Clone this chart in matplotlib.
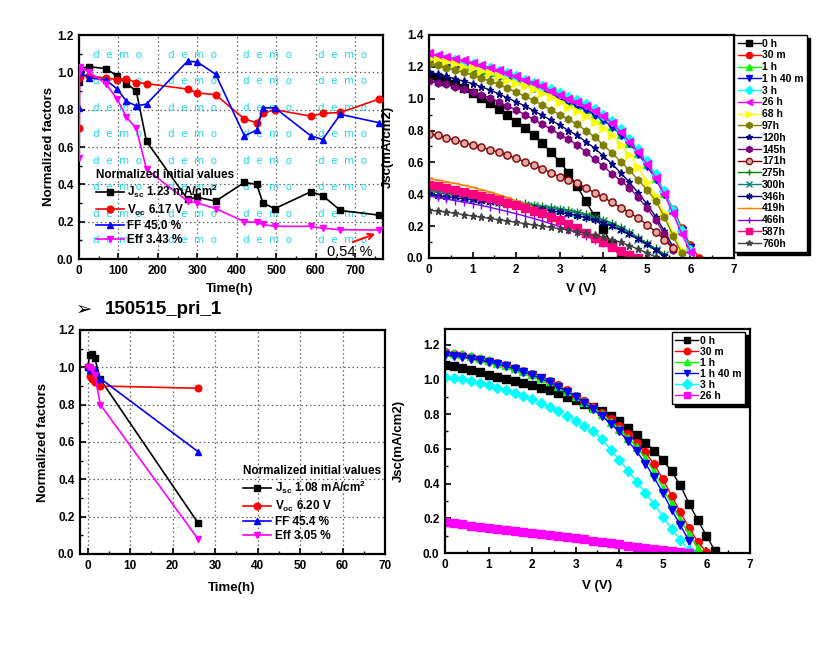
#!/usr/bin/env python3
"""Degradation summary: normalized factors vs time and J-V sweeps for two cells."""

from __future__ import annotations

import matplotlib

matplotlib.use("Agg")
import matplotlib.pyplot as plt
from matplotlib.ticker import MultipleLocator

W_PX, H_PX = 829, 652

# ---------------- long run, normalized factors (top left) ----------------
TIME_LONG = [0, 0.5, 1, 1.67, 3, 26, 68, 97, 120, 145, 171, 275, 300, 346,
             419, 450, 466, 496, 587, 617, 662, 760]
JSC_LONG = [1.0, 0.95, 1.0, 1.01, 1.02, 1.03, 1.02, 0.98, 0.94, 0.90, 0.63,
            0.32, 0.33, 0.31, 0.41, 0.40, 0.30, 0.27, 0.36, 0.34, 0.26, 0.235]
VOC_LONG = [1.0, 0.70, 0.97, 0.98, 0.985, 0.98, 0.97, 0.96, 0.965, 0.945, 0.94,
            0.91, 0.89, 0.88, 0.75, 0.73, 0.78, 0.80, 0.765, 0.78, 0.785, 0.857]
FF_LONG = [1.0, 0.81, 1.02, 1.03, 1.0, 0.97, 0.96, 0.91, 0.845, 0.82, 0.83,
           1.06, 1.055, 0.99, 0.66, 0.69, 0.81, 0.81, 0.66, 0.64, 0.775, 0.73]
EFF_LONG = [1.0, 0.54, 1.0, 1.02, 1.03, 1.0, 0.94, 0.855, 0.76, 0.70, 0.48,
            0.31, 0.30, 0.27, 0.20, 0.196, 0.185, 0.175, 0.175, 0.165, 0.157, 0.155]
LABELS_LONG = ["J$_{sc}$ 1.23 mA/cm$^{2}$", "V$_{oc}$ 6.17 V", "FF 45.0 %", "Eff 3.43 %"]
FINAL_EFF_TEXT = "0.54 %"

# ---------------- short run, normalized factors (bottom left) ----------------
TIME_SHORT = [0, 0.5, 1, 1.67, 3, 26]
JSC_SHORT = [1.0, 1.065, 1.07, 1.05, 0.935, 0.166]
VOC_SHORT = [1.0, 0.955, 0.935, 0.92, 0.90, 0.888]
FF_SHORT = [1.0, 0.985, 0.995, 0.99, 0.94, 0.548]
EFF_SHORT = [1.0, 1.0, 0.985, 0.96, 0.80, 0.08]
LABELS_SHORT = ["J$_{sc}$ 1.08 mA/cm$^{2}$", "V$_{oc}$ 6.20 V", "FF 45.4 %", "Eff 3.05 %"]

# ---------------- J-V sweeps (voltage grid shared by all curves) ----------------
V_GRID = [0.0, 0.2, 0.4, 0.6, 0.8, 1.0, 1.2, 1.4, 1.6, 1.8, 2.0, 2.2, 2.4, 2.6,
          2.8, 3.0, 3.2, 3.4, 3.6, 3.8, 4.0, 4.2, 4.4, 4.6, 4.8, 5.0, 5.2, 5.4,
          5.6, 5.8, 6.0, 6.2, 6.4]

IV_LABELS_LONG = ["0 h", "30 m", "1 h", "1 h 40 m", "3 h", "26 h", "68 h", "97h", "120h",
                  "145h", "171h", "275h", "300h", "346h", "419h", "466h", "587h", "760h"]
J_0H = [1.15, 1.13, 1.11, 1.09, 1.065, 1.035, 1.005, 0.97, 0.935, 0.895, 0.855, 0.815,
        0.77, 0.72, 0.665, 0.605, 0.535, 0.45, 0.355, 0.265, 0.18, 0.085, 0.0]
J_30M = [1.27, 1.26, 1.25, 1.24, 1.23, 1.215, 1.20, 1.185, 1.17, 1.15, 1.13, 1.11, 1.09,
         1.07, 1.045, 1.02, 0.995, 0.97, 0.945, 0.915, 0.88, 0.84, 0.79, 0.735, 0.67,
         0.60, 0.52, 0.42, 0.31, 0.19, 0.08, 0.0]
J_1H = [1.24, 1.235, 1.225, 1.215, 1.205, 1.19, 1.18, 1.165, 1.15, 1.135, 1.115, 1.10,
        1.08, 1.06, 1.035, 1.01, 0.985, 0.96, 0.935, 0.905, 0.87, 0.83, 0.78, 0.725,
        0.66, 0.59, 0.505, 0.41, 0.30, 0.18, 0.07]
J_1H40 = [1.23, 1.225, 1.215, 1.205, 1.195, 1.185, 1.17, 1.16, 1.145, 1.13, 1.11, 1.09,
          1.07, 1.05, 1.03, 1.005, 0.98, 0.955, 0.93, 0.90, 0.865, 0.825, 0.775, 0.72,
          0.655, 0.58, 0.495, 0.40, 0.29, 0.17, 0.06]
J_3H = [1.27, 1.26, 1.25, 1.24, 1.23, 1.215, 1.20, 1.19, 1.175, 1.16, 1.14, 1.12, 1.10,
        1.08, 1.06, 1.035, 1.01, 0.99, 0.965, 0.935, 0.90, 0.86, 0.81, 0.75, 0.685,
        0.61, 0.525, 0.42, 0.30, 0.17, 0.05]
J_26H = [1.285, 1.275, 1.265, 1.25, 1.24, 1.225, 1.21, 1.195, 1.18, 1.16, 1.14, 1.12,
         1.10, 1.08, 1.05, 1.025, 1.0, 0.98, 0.955, 0.925, 0.89, 0.85, 0.79, 0.73,
         0.665, 0.59, 0.505, 0.40, 0.28, 0.15, 0.04]
J_68H = [1.25, 1.24, 1.23, 1.215, 1.20, 1.19, 1.175, 1.16, 1.14, 1.12, 1.10, 1.08, 1.06,
         1.035, 1.01, 0.98, 0.95, 0.92, 0.89, 0.855, 0.815, 0.77, 0.71, 0.645, 0.57,
         0.48, 0.39, 0.28, 0.16, 0.05]
J_97H = [1.22, 1.21, 1.195, 1.18, 1.165, 1.15, 1.13, 1.11, 1.09, 1.065, 1.04, 1.015,
         0.99, 0.96, 0.93, 0.90, 0.87, 0.84, 0.80, 0.76, 0.71, 0.66, 0.605, 0.55, 0.49,
         0.43, 0.36, 0.26, 0.14, 0.03]
J_120H = [1.165, 1.155, 1.14, 1.125, 1.11, 1.095, 1.075, 1.055, 1.03, 1.005, 0.98, 0.955,
          0.925, 0.895, 0.865, 0.835, 0.80, 0.77, 0.73, 0.69, 0.64, 0.59, 0.535, 0.475,
          0.41, 0.34, 0.26, 0.17, 0.07]
J_145H = [1.11, 1.10, 1.09, 1.075, 1.06, 1.045, 1.025, 1.005, 0.98, 0.955, 0.93, 0.90,
          0.87, 0.84, 0.81, 0.775, 0.745, 0.71, 0.665, 0.62, 0.575, 0.53, 0.485, 0.44,
          0.38, 0.315, 0.24, 0.15, 0.05]
J_171H = [0.78, 0.77, 0.755, 0.74, 0.725, 0.71, 0.695, 0.68, 0.665, 0.645, 0.625, 0.605,
          0.585, 0.56, 0.535, 0.51, 0.49, 0.47, 0.44, 0.41, 0.38, 0.35, 0.315, 0.285,
          0.25, 0.21, 0.165, 0.115, 0.06]
J_275H = [0.43, 0.42, 0.41, 0.40, 0.39, 0.385, 0.378, 0.37, 0.363, 0.356, 0.35, 0.343,
          0.335, 0.327, 0.318, 0.31, 0.30, 0.29, 0.275, 0.26, 0.24, 0.22, 0.195, 0.165,
          0.13, 0.095, 0.06, 0.025]
J_300H = [0.42, 0.41, 0.40, 0.39, 0.382, 0.375, 0.368, 0.36, 0.353, 0.346, 0.34, 0.333,
          0.325, 0.317, 0.308, 0.30, 0.29, 0.28, 0.265, 0.25, 0.23, 0.21, 0.185, 0.155,
          0.12, 0.085, 0.05, 0.02]
J_346H = [0.40, 0.39, 0.385, 0.38, 0.37, 0.365, 0.358, 0.35, 0.343, 0.336, 0.33, 0.322,
          0.314, 0.305, 0.296, 0.287, 0.277, 0.266, 0.253, 0.238, 0.22, 0.20, 0.175,
          0.148, 0.118, 0.085, 0.05, 0.015]
J_419H = [0.50, 0.49, 0.48, 0.468, 0.457, 0.445, 0.43, 0.415, 0.398, 0.38, 0.36, 0.34,
          0.318, 0.295, 0.27, 0.245, 0.218, 0.19, 0.162, 0.133, 0.103, 0.073, 0.045,
          0.02, 0.0]
J_466H = [0.39, 0.38, 0.37, 0.36, 0.35, 0.34, 0.33, 0.318, 0.305, 0.292, 0.278, 0.263,
          0.248, 0.232, 0.215, 0.197, 0.178, 0.158, 0.137, 0.115, 0.092, 0.068, 0.045,
          0.022, 0.0]
J_587H = [0.46, 0.45, 0.44, 0.428, 0.416, 0.403, 0.39, 0.376, 0.362, 0.347, 0.332, 0.315,
          0.298, 0.28, 0.26, 0.238, 0.213, 0.186, 0.157, 0.127, 0.098, 0.07, 0.044, 0.02,
          0.0]
J_760H = [0.30, 0.295, 0.288, 0.28, 0.272, 0.264, 0.256, 0.248, 0.24, 0.232, 0.224,
          0.216, 0.208, 0.2, 0.192, 0.184, 0.175, 0.165, 0.155, 0.143, 0.13, 0.115,
          0.098, 0.078, 0.056, 0.032, 0.008]

IV_LABELS_SHORT = ["0 h", "30 m", "1 h", "1 h 40 m", "3 h", "26 h"]
B_0H = [1.085, 1.075, 1.065, 1.055, 1.04, 1.027, 1.015, 1.002, 0.99, 0.977, 0.965, 0.952,
        0.938, 0.922, 0.90, 0.88, 0.86, 0.84, 0.815, 0.79, 0.76, 0.72, 0.68, 0.635,
        0.59, 0.535, 0.47, 0.39, 0.285, 0.19, 0.10, 0.01]
B_30M = [1.155, 1.148, 1.14, 1.13, 1.12, 1.108, 1.095, 1.08, 1.065, 1.048, 1.03, 1.01,
         0.99, 0.965, 0.937, 0.907, 0.875, 0.84, 0.805, 0.77, 0.73, 0.685, 0.635, 0.58,
         0.51, 0.425, 0.33, 0.235, 0.145, 0.065, 0.005]
B_1H = [1.16, 1.152, 1.144, 1.134, 1.123, 1.11, 1.097, 1.082, 1.066, 1.048, 1.03, 1.01,
        0.988, 0.963, 0.935, 0.905, 0.872, 0.836, 0.798, 0.757, 0.713, 0.665, 0.61,
        0.545, 0.465, 0.375, 0.28, 0.19, 0.11, 0.03]
B_1H40 = [1.14, 1.135, 1.128, 1.12, 1.11, 1.10, 1.088, 1.075, 1.06, 1.043, 1.025, 1.005,
          0.983, 0.958, 0.93, 0.90, 0.865, 0.828, 0.788, 0.745, 0.70, 0.645, 0.585,
          0.515, 0.435, 0.345, 0.25, 0.16, 0.07]
B_3H = [1.015, 1.008, 1.0, 0.99, 0.978, 0.965, 0.952, 0.938, 0.922, 0.905, 0.887, 0.865,
        0.842, 0.817, 0.79, 0.762, 0.732, 0.70, 0.655, 0.595, 0.535, 0.475, 0.41, 0.345,
        0.28, 0.21, 0.14, 0.075, 0.015]
B_26H = [0.18, 0.172, 0.165, 0.158, 0.151, 0.145, 0.139, 0.133, 0.127, 0.122, 0.116,
         0.11, 0.104, 0.097, 0.091, 0.085, 0.078, 0.071, 0.064, 0.057, 0.05, 0.043,
         0.036, 0.029, 0.022, 0.016, 0.01, 0.005, 0.001]

FACTOR_STYLES = [("black", "s"), ("red", "o"), ("blue", "^"), ("magenta", "v")]
IV_STYLES_LONG = [
    ("black", "s", "black"), ("red", "o", "red"), ("#00ff00", "^", "#00ff00"),
    ("blue", "v", "blue"), ("cyan", "D", "cyan"), ("magenta", "<", "magenta"),
    ("#ffff00", ">", "#ffff00"), ("#808000", "h", "#808000"), ("#000080", "*", "#000080"),
    ("#800080", "h", "#800080"), ("#800000", "o", "#e0a8a8"), ("#008000", "+", "#008000"),
    ("#008080", "x", "#008080"), ("#000080", (6, 2, 0), "#000080"), ("#ff8000", "_", "#ff8000"),
    ("#8000ff", "|", "#8000ff"), ("#ff0080", "s", "#ff0080"), ("#404040", "*", "#404040"),
]
IV_STYLES_SHORT = [("black", "s"), ("red", "o"), ("#00ff00", "^"), ("blue", "v"),
                   ("cyan", "D"), ("magenta", "s")]


def rect(left, top, right, bottom):
    return [left / W_PX, 1 - bottom / H_PX, (right - left) / W_PX, (bottom - top) / H_PX]


def polish(ax, xmaj, xmin, ymaj, ymin):
    for sp in ax.spines.values():
        sp.set_linewidth(1.6)
    ax.xaxis.set_major_locator(MultipleLocator(xmaj))
    ax.xaxis.set_minor_locator(MultipleLocator(xmin))
    ax.yaxis.set_major_locator(MultipleLocator(ymaj))
    ax.yaxis.set_minor_locator(MultipleLocator(ymin))
    ax.tick_params(which="major", direction="in", length=4, width=1.2, labelsize=8.5, pad=4)
    ax.tick_params(which="minor", direction="in", length=2, width=1.0)


def factor_panel(ax, t, series, labels, legend_anchor):
    ax.grid(True, linestyle=(0, (1.2, 2.2)), color="#606060", linewidth=0.9)
    ax.set_axisbelow(True)
    handles = []
    for y, (color, marker), lab in zip(series, FACTOR_STYLES, labels):
        (h,) = ax.plot(t, y, color=color, marker=marker, markersize=4.8, linewidth=1.2,
                       label=lab, zorder=3)
        handles.append(h)
    leg = ax.legend(handles=handles, title="Normalized initial values", loc="lower left",
                    bbox_to_anchor=legend_anchor, frameon=False, fontsize=8.5,
                    title_fontsize=8.5, handlelength=2.4, handletextpad=0.3,
                    labelspacing=0.2, borderpad=0, alignment="left")
    leg.get_title().set_fontweight("bold")
    ax.set_ylim(0, 1.2)
    ax.set_ylabel("Normalized factors", fontsize=9.5)
    ax.set_xlabel("Time(h)", fontsize=9.5)


def iv_legend(ax, spacing, **kw):
    leg = ax.legend(fontsize=7.5, handlelength=2.2, handletextpad=0.15, labelspacing=spacing,
                    borderpad=0.35, borderaxespad=0, fancybox=False, markerscale=0.85,
                    shadow={"ox": 2, "oy": -2, "color": "black", "alpha": 1.0}, **kw)
    leg.get_frame().set_edgecolor("black")
    leg.get_frame().set_linewidth(1.0)
    leg.get_frame().set_alpha(1.0)
    return leg


def main() -> None:
    plt.rcParams["font.family"] = ["Liberation Sans", "DejaVu Sans"]
    plt.rcParams["font.weight"] = "bold"
    plt.rcParams["axes.labelweight"] = "bold"
    plt.rcParams["mathtext.fontset"] = "custom"
    plt.rcParams["mathtext.rm"] = "Liberation Sans:bold"
    plt.rcParams["mathtext.it"] = "Liberation Sans:bold"
    plt.rcParams["mathtext.bf"] = "Liberation Sans:bold"

    fig = plt.figure(figsize=(W_PX / 100, H_PX / 100), dpi=100)

    # top left: long run factors
    ax1 = fig.add_axes(rect(79, 35, 383, 259))
    # watermark of the original software
    for r in range(8):
        for c in range(4):
            ax1.text(0.046 + 0.247 * c, 0.911 - 0.118 * r, "d  e  m  o", transform=ax1.transAxes,
                     color="#20d8f0", fontsize=7.5, fontweight="normal", family="DejaVu Sans",
                     va="center", ha="left", zorder=1)
    factor_panel(ax1, TIME_LONG, [JSC_LONG, VOC_LONG, FF_LONG, EFF_LONG], LABELS_LONG,
                 (0.035, 0.03))
    ax1.set_xlim(0, 770)
    polish(ax1, 100, 50, 0.2, 0.1)
    ax1.annotate("", xy=(757, 0.14), xytext=(687, 0.086),
                 arrowprops=dict(arrowstyle="->", color="red", lw=1.4))
    ax1.text(628, 0.037, FINAL_EFF_TEXT, fontsize=10.5, fontweight="normal", va="center",
             ha="left")
    ax1.yaxis.set_label_coords(-0.079, 0.5)
    ax1.xaxis.set_label_coords(0.497, -0.107)

    # top right: J-V sweeps, long run
    ax2 = fig.add_axes(rect(429, 35, 734, 258))
    curves_long = [J_0H, J_30M, J_1H, J_1H40, J_3H, J_26H, J_68H, J_97H, J_120H, J_145H,
                   J_171H, J_275H, J_300H, J_346H, J_419H, J_466H, J_587H, J_760H]
    for j, (color, marker, mfc), lab in zip(curves_long, IV_STYLES_LONG, IV_LABELS_LONG):
        ax2.plot(V_GRID[:len(j)], j, color=color, marker=marker, markerfacecolor=mfc,
                 markeredgecolor=color, markersize=5.2, linewidth=1.0, label=lab)
    ax2.set_xlim(0, 7)
    ax2.set_ylim(0, 1.4)
    polish(ax2, 1, 0.5, 0.2, 0.1)
    ax2.set_xlabel("V (V)", fontsize=9.5)
    ax2.set_ylabel("Jsc(mA/cm2)", fontsize=9.5)
    ax2.yaxis.set_label_coords(-0.115, 0.5)
    ax2.xaxis.set_label_coords(0.5, -0.112)
    iv_legend(ax2, 0.17, loc="upper left", bbox_to_anchor=(1.0, 1.0))

    # section title
    fig.text(76 / W_PX, 1 - 309 / H_PX, "\u27a2", fontsize=14, va="center", ha="left",
             family=["DejaVu Sans"])
    fig.text(105 / W_PX, 1 - 309 / H_PX, "150515_pri_1", fontsize=13.5, va="center",
             ha="left", fontweight="bold")

    # bottom left: short run factors
    ax3 = fig.add_axes(rect(80, 330, 385, 554))
    factor_panel(ax3, TIME_SHORT, [JSC_SHORT, VOC_SHORT, FF_SHORT, EFF_SHORT], LABELS_SHORT,
                 (0.515, 0.025))
    ax3.set_xlim(-1.8, 70)
    polish(ax3, 10, 5, 0.2, 0.1)
    ax3.yaxis.set_label_coords(-0.10, 0.5)
    ax3.xaxis.set_label_coords(0.498, -0.125)

    # bottom right: J-V sweeps, short run
    ax4 = fig.add_axes(rect(445, 329, 750, 553))
    curves_short = [B_0H, B_30M, B_1H, B_1H40, B_3H, B_26H]
    for j, (color, marker), lab in zip(curves_short, IV_STYLES_SHORT, IV_LABELS_SHORT):
        ax4.plot(V_GRID[:len(j)], j, color=color, marker=marker, markersize=5.5,
                 linewidth=1.0, label=lab)
    ax4.set_xlim(0, 7)
    ax4.set_ylim(0, 1.29)
    polish(ax4, 1, 0.5, 0.2, 0.1)
    ax4.set_xlabel("V (V)", fontsize=9.5)
    ax4.set_ylabel("Jsc(mA/cm2)", fontsize=9.5)
    ax4.yaxis.set_label_coords(-0.131, 0.5)
    ax4.xaxis.set_label_coords(0.498, -0.12)
    iv_legend(ax4, 0.1, loc="upper right", bbox_to_anchor=(0.984, 0.987))

    fig.savefig("out.png", dpi=100)
    plt.close(fig)


if __name__ == "__main__":
    main()
